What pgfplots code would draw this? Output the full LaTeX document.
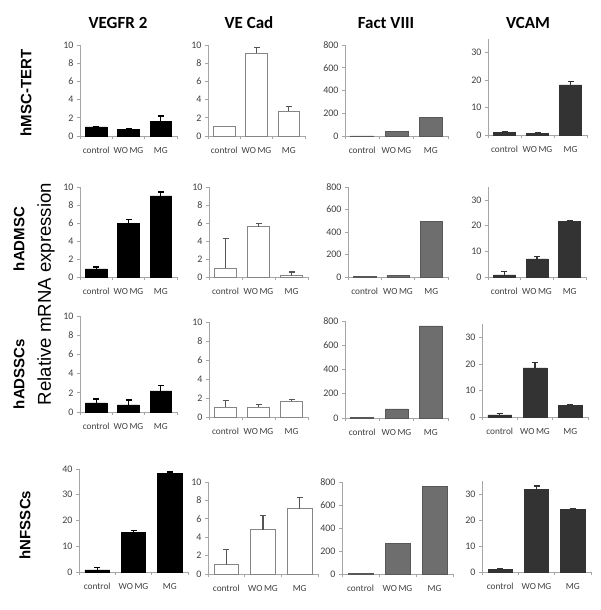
\documentclass[border=0pt]{standalone}
\usepackage{pgfplots}
\pgfplotsset{compat=1.18}
\usepackage{fontspec}
\setmainfont{Carlito}
\newfontfamily\arial{Liberation Sans}
\definecolor{axisgray}{HTML}{A6A6A6}
\definecolor{labgray}{HTML}{404040}
\definecolor{outgray}{HTML}{858585}
\definecolor{errgray}{HTML}{555555}
\definecolor{midgray}{HTML}{6E6E6E}
\definecolor{darkbar}{HTML}{333333}
\pgfplotsset{
  pos/.style n args={4}{at={(#1pt,#2pt)}, width=#3pt, height=#4pt},
  base/.style={
    scale only axis, anchor=south west,
    xmin=0, xmax=3, ymin=0,
    enlarge x limits=false, enlarge y limits=false,
    axis x line=bottom, axis y line=left,
    axis line style={-, draw=axisgray, line width=0.7pt},
    xtick={0,1,2,3}, xticklabels={},
    extra x ticks={0.5,1.5,2.5},
    extra x tick labels={control,WO\,MG,MG},
    extra x tick style={major tick length=0pt, xticklabel style={yshift=-8pt}},
    tick align=outside, major tick length=3pt,
    tick style={draw=axisgray, line width=0.7pt},
    xticklabel style={font=\fontsize{9.3}{11}\selectfont, text=labgray},
    yticklabel style={font=\fontsize{10}{12}\selectfont, text=labgray},
    /pgf/number format/assume math mode=true,
    ybar, bar width=0.67, bar shift=0pt,
    clip=false,
  },
  errs/.style={error bars/.cd, y dir=plus, y explicit,
    error bar style={draw=#1, line width=1.2pt},
    error mark options={draw=#1, line width=1.2pt, mark size=3pt, rotate=90}},
  c1/.style={fill=black, draw=black, line width=0.5pt, errs=black},
  c2/.style={fill=white, draw=outgray, line width=0.8pt, errs=errgray},
  c2n/.style={fill=white, draw=outgray, line width=0.8pt},
  c3/.style={fill=midgray, draw=midgray!80!black, line width=0.5pt},
  c4/.style={fill=darkbar, draw=darkbar, line width=0.5pt, errs=darkbar},
  y10/.style={ymax=10, ytick={0,2,...,10}},
  y40/.style={ymax=40, ytick={0,10,...,40}},
  y800/.style={ymax=800, ytick={0,200,...,800}},
  y35/.style={ymax=35, ytick={0,10,20,30}},
}
\begin{document}
\begin{tikzpicture}
\useasboundingbox (0,0) rectangle (600pt,610pt);
% titles
\foreach \x/\t in {118/VEGFR 2, 249/VE Cad, 386/Fact VIII, 528/VCAM}
  \node[font=\bfseries\fontsize{17}{19}\selectfont] at (\x pt, 587pt) {\t};
% row labels
\node[rotate=90, font=\arial\bfseries\fontsize{15}{17}\selectfont] at (26pt, 517pt) {hMSC-TERT};
\node[rotate=90, font=\arial\bfseries\fontsize{15}{17}\selectfont] at (19pt, 371pt) {hADMSC};
\node[rotate=90, font=\arial\bfseries\fontsize{15}{17}\selectfont] at (19pt, 236pt) {hADSSCs};
\node[rotate=90, font=\arial\bfseries\fontsize{15}{17}\selectfont] at (25pt, 85pt) {hNFSSCs};
\node[rotate=90, font=\arial\fontsize{18.6}{20}\selectfont] at (46pt, 316pt) {Relative mRNA expression};

% ---------- Row 1: hMSC-TERT ----------
\begin{axis}[base, y10, pos={80}{474}{97}{91}]
\addplot[c1] coordinates {(0.5,1.0) +- (0,0.04) (1.5,0.75) +- (0,0.08) (2.5,1.6) +- (0,0.6)};
\end{axis}
\begin{axis}[base, y10, pos={208}{474}{97}{91}]
\addplot[c2n] coordinates {(0.5,1.0)};
\addplot[c2] coordinates {(1.5,9.1) +- (0,0.6) (2.5,2.7) +- (0,0.55)};
\end{axis}
\begin{axis}[base, y800, pos={345}{474}{103}{91}]
\addplot[c3] coordinates {(0.5,2) (1.5,38) (2.5,165)};
\end{axis}
\begin{axis}[base, y35, pos={488}{475}{99}{96}]
\addplot[c4] coordinates {(0.5,1.0) +- (0,0.1) (1.5,0.6) +- (0,0.1) (2.5,18.3) +- (0,1.1)};
\end{axis}

% ---------- Row 2: hADMSC ----------
\begin{axis}[base, y10, pos={80}{333}{97}{90}]
\addplot[c1] coordinates {(0.5,0.9) +- (0,0.2) (1.5,5.95) +- (0,0.45) (2.5,9.0) +- (0,0.45)};
\end{axis}
\begin{axis}[base, y10, pos={209}{333}{99}{90}]
\addplot[c2] coordinates {(0.5,1.0) +- (0,3.3) (1.5,5.6) +- (0,0.35) (2.5,0.15) +- (0,0.4)};
\end{axis}
\begin{axis}[base, y800, pos={348}{333}{100}{90}]
\addplot[c3] coordinates {(0.5,3) (1.5,13) (2.5,495)};
\end{axis}
\begin{axis}[base, y35, pos={488}{333}{98}{90}]
\addplot[c4] coordinates {(0.5,0.8) +- (0,1.2) (1.5,7.0) +- (0,0.9) (2.5,21.5) +- (0,0.5)};
\end{axis}

% ---------- Row 3: hADSSCs ----------
\begin{axis}[base, y10, pos={80}{198}{97}{96}]
\addplot[c1] coordinates {(0.5,0.95) +- (0,0.4) (1.5,0.75) +- (0,0.5) (2.5,2.2) +- (0,0.55)};
\end{axis}
\begin{axis}[base, y10, pos={209}{193}{99}{95}]
\addplot[c2] coordinates {(0.5,1.0) +- (0,0.75) (1.5,1.05) +- (0,0.25) (2.5,1.65) +- (0,0.15)};
\end{axis}
\begin{axis}[base, y800, pos={345}{192}{103}{97}]
\addplot[c3] coordinates {(0.5,3) (1.5,75) (2.5,760)};
\end{axis}
\begin{axis}[base, y35, pos={482}{193}{106}{93}]
\addplot[c4] coordinates {(0.5,0.8) +- (0,0.4) (1.5,18.5) +- (0,2.0) (2.5,4.4) +- (0,0.3)};
\end{axis}

% ---------- Row 4: hNFSSCs ----------
\begin{axis}[base, y40, pos={79}{38}{109}{103}]
\addplot[c1] coordinates {(0.5,0.8) +- (0,0.9) (1.5,15.3) +- (0,0.9) (2.5,38.3) +- (0,0.5)};
\end{axis}
\begin{axis}[base, y10, pos={208}{36}{110}{92}]
\addplot[c2] coordinates {(0.5,1.0) +- (0,1.7) (1.5,4.8) +- (0,1.6) (2.5,7.1) +- (0,1.2)};
\end{axis}
\begin{axis}[base, y800, pos={342}{36}{111}{92}]
\addplot[c3] coordinates {(0.5,3) (1.5,268) (2.5,760)};
\end{axis}
\begin{axis}[base, y35, pos={482}{38}{109}{91}]
\addplot[c4] coordinates {(0.5,0.9) +- (0,0.5) (1.5,31.7) +- (0,1.4) (2.5,24.0) +- (0,0.4)};
\end{axis}
\end{tikzpicture}
\end{document}
